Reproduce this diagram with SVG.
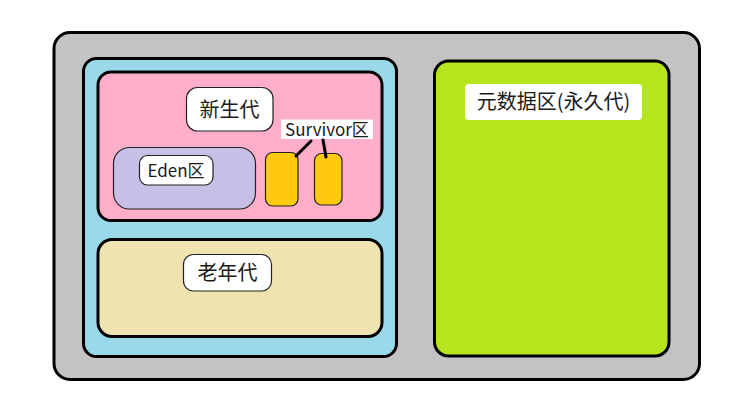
<svg xmlns="http://www.w3.org/2000/svg" width="745" height="402" viewBox="0 0 745 402">
<style>
.box{stroke:#000;stroke-width:3}
.thin{stroke:#222;stroke-width:1.2}
.lbl{fill:#fff;stroke:#222;stroke-width:1.2}
text{font-family:"Noto Sans CJK SC","Microsoft YaHei",sans-serif;fill:#1a1a1a}
.t20{font-size:20px}
.t17{font-size:17px}
</style>
<rect width="745" height="402" fill="#fff"/>
<g id="heap-outer"><rect class="box" x="54" y="32.5" width="645.5" height="347" rx="16" fill="#c3c3c3"/></g>
<g id="heap"><rect class="box" x="83.5" y="58.5" width="313" height="298" rx="13" fill="#99d9ea"/></g>
<g id="young"><rect class="box" x="98" y="72" width="284" height="148.5" rx="13" fill="#ffaec9"/>
<rect class="lbl" x="186.5" y="87.5" width="86.5" height="43.5" rx="11"/>
<text class="t20" x="229.5" y="116.5" text-anchor="middle">新生代</text></g>
<g id="eden"><rect class="thin" x="113.5" y="147.5" width="142" height="61.5" rx="16" fill="#c8bfe7"/>
<rect class="lbl" x="139.5" y="155.5" width="73.5" height="29.5" rx="8"/>
<text class="t17" x="176" y="176.5" text-anchor="middle">Eden区</text></g>
<g id="survivor1"><rect class="thin" x="265.5" y="152.5" width="32.5" height="53.5" rx="7" fill="#ffc90e"/></g>
<g id="survivor2"><rect class="thin" x="314.5" y="153.5" width="27.5" height="51.5" rx="7" fill="#ffc90e"/></g>
<g id="survivor-label"><rect x="281" y="119.5" width="92" height="19.5" fill="#fff"/>
<text class="t17" x="327" y="135.5" text-anchor="middle">Survivor区</text></g>
<g id="old"><rect class="box" x="98" y="239.5" width="284" height="97" rx="14" fill="#efe4b0"/>
<rect class="lbl" x="183.5" y="254.5" width="88" height="36.5" rx="10"/>
<text class="t20" x="227.5" y="279.5" text-anchor="middle">老年代</text></g>
<g id="metaspace"><rect class="box" x="434.5" y="61" width="234.5" height="295" rx="14" fill="#b5e61d"/>
<rect x="465" y="84" width="177" height="36" rx="4" fill="#fff"/>
<text class="t20" x="553.5" y="109" text-anchor="middle">元数据区(永久代)</text></g>
<g id="connectors" stroke="#000" stroke-width="3" stroke-linecap="round">
<line x1="311" y1="141" x2="296" y2="156"/>
<line x1="323" y1="140" x2="326" y2="157"/>
</g>
</svg>
